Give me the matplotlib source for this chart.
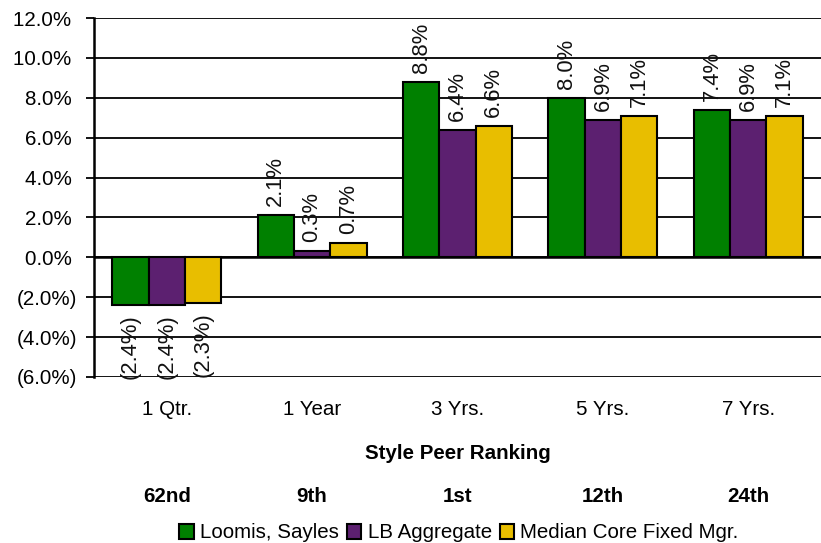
import matplotlib.pyplot as plt
import numpy as np

plt.rcParams['font.family'] = ['Liberation Sans', 'DejaVu Sans']

periods = ['1 Qtr.', '1 Year', '3 Yrs.', '5 Yrs.', '7 Yrs.']
rankings = ['62nd', '9th', '1st', '12th', '24th']
loomis = [-2.4, 2.1, 8.8, 8.0, 7.4]
lb_agg = [-2.4, 0.3, 6.4, 6.9, 6.9]
median_core = [-2.3, 0.7, 6.6, 7.1, 7.1]
series_names = ['Loomis, Sayles', 'LB Aggregate', 'Median Core Fixed Mgr.']
colours = ['#008000', '#5C2070', '#E8BE00']

FS = 14.8
LABEL_FS = 15.8


def pct(v, pad=False):
    # accounting style: negatives in brackets
    if v < 0:
        return '(%.1f%%)' % abs(v)
    return '%.1f%%' % v + (' ' if pad else '')


fig = plt.figure(figsize=(8.21, 5.43), dpi=100)
ax = fig.add_axes([94/821, 1-377/543, 1-94/821, (377-18)/543])

x = np.arange(len(periods))
w = 0.25
handles = []
for i, vals in enumerate([loomis, lb_agg, median_core]):
    bars = ax.bar(x + (i-1)*w, vals, w, color=colours[i], edgecolor='black',
                  linewidth=1.5, zorder=3, label=series_names[i])
    handles.append(bars)
    for b, v in zip(bars, vals):
        cx = b.get_x() + b.get_width()/2
        if v >= 0:
            ax.text(cx, v + 0.45, pct(v), rotation=90, ha='center', va='bottom',
                    fontsize=LABEL_FS, color='#111111', zorder=4)
        else:
            ax.text(cx, v - 0.45, pct(v), rotation=90, ha='center', va='top',
                    fontsize=LABEL_FS, color='#111111', zorder=4)

ax.set_xlim(-0.5, len(periods)-0.5)
ax.set_ylim(-6, 12)
yt = np.arange(-6, 13, 2)
ax.set_yticks(yt)
ax.set_yticklabels([pct(v, pad=True) for v in yt], fontsize=FS)
ax.yaxis.grid(True, color='black', linewidth=1.3, zorder=0)
ax.axhline(0, color='black', linewidth=1.8, zorder=2)
ax.tick_params(axis='y', length=6, width=1.3, pad=6)
ax.set_xticks([])
for s in ['top', 'right', 'bottom']:
    ax.spines[s].set_visible(False)
ax.spines['left'].set_linewidth(1.8)

# period labels, ranking header and rankings below the plot
for xi, p, r in zip(x, periods, rankings):
    ax.text(xi, -7.65, p, ha='center', va='center', fontsize=FS)
    ax.text(xi, -12.0, r, ha='center', va='center', fontsize=FS, fontweight='bold')
ax.text(2, -9.85, 'Style Peer Ranking', ha='center', va='center', fontsize=FS,
        fontweight='bold', clip_on=False)

fig.legend(handles=handles, loc='center', bbox_to_anchor=(459/821, 1-533/543),
           ncol=3, frameon=False, fontsize=FS, handlelength=0.7, handleheight=0.7,
           handletextpad=0.3, columnspacing=0.4, borderpad=0)

fig.savefig('out.png', dpi=100)
